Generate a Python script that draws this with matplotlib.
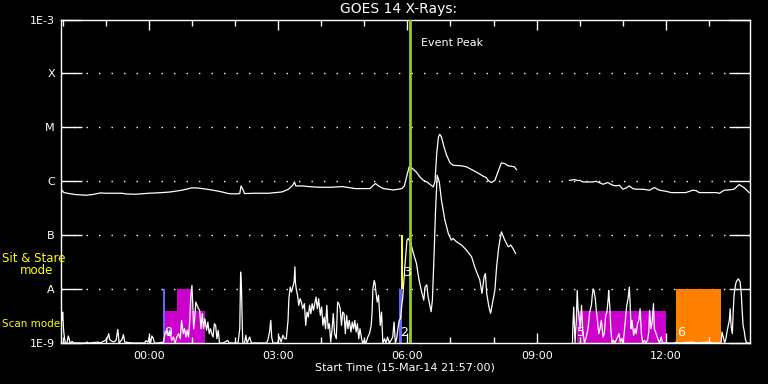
import numpy as np
import matplotlib
matplotlib.use("Agg")
import matplotlib.pyplot as plt
from matplotlib.ticker import FixedLocator, NullLocator

# ---------------- data (time in hours after 00:00, flux in W/m^2) ----------------
# short channel (lower curve), before data gap
short_t1 = [-2.08, -2.03, -2.01, -2.00, -1.98, -1.97, -1.94, -1.90, -1.87, -1.85, -1.83, -1.78, -1.74,
            -1.47, -1.43, -1.40, -1.17, -1.13, -1.01, -0.97, -0.93, -0.91, -0.87, -0.82, -0.76, -0.72,
            -0.69, -0.62, -0.59, -0.56, -0.39, -0.10, -0.07, -0.02, 0.01, 0.04, 0.07, 0.10, 0.13, 0.22,
            0.34, 0.38, 0.42, 0.46, 0.49, 0.53, 0.57, 0.61, 0.65, 0.69, 0.73, 0.76, 0.80, 0.83, 0.86,
            0.89, 0.92, 0.95, 0.97, 1.00, 1.02, 1.04, 1.07, 1.09, 1.12, 1.15, 1.18, 1.21, 1.24, 1.27,
            1.30, 1.34, 1.37, 1.40, 1.43, 1.46, 1.49, 1.52, 1.55, 1.58, 1.61, 1.64, 1.73, 1.83, 1.86,
            2.00, 2.03, 2.07, 2.11, 2.13, 2.15, 2.17, 2.18, 2.22, 2.25, 2.28, 2.34, 2.38, 2.73, 2.76,
            2.80, 2.83, 2.85, 2.88, 2.99, 3.03, 3.07, 3.11, 3.15, 3.19, 3.23, 3.25, 3.28, 3.31, 3.34,
            3.37, 3.39, 3.40, 3.42, 3.45, 3.48, 3.51, 3.54, 3.57, 3.61, 3.64, 3.67, 3.70, 3.73, 3.76,
            3.79, 3.82, 3.85, 3.88, 3.91, 3.94, 3.98, 4.01, 4.04, 4.07, 4.10, 4.13, 4.16, 4.19, 4.22,
            4.25, 4.28, 4.31, 4.35, 4.38, 4.41, 4.44, 4.47, 4.50, 4.53, 4.56, 4.59, 4.62, 4.65, 4.69,
            4.72, 4.75, 4.78, 4.81, 4.84, 4.87, 4.90, 4.93, 4.96, 5.00, 5.04, 5.08, 5.12, 5.16, 5.18,
            5.20, 5.23, 5.25, 5.27, 5.30, 5.33, 5.37, 5.40, 5.43, 5.47, 5.50, 5.54, 5.58, 5.62, 5.66,
            5.69, 5.72, 5.75, 5.78, 5.81, 5.84, 5.87, 5.89, 5.94, 5.99, 6.02, 6.08, 6.14, 6.21, 6.27,
            6.33, 6.38, 6.41, 6.45, 6.48, 6.55, 6.58, 6.62, 6.65, 6.69, 6.74, 6.79, 6.87, 6.95, 7.02,
            7.06, 7.14, 7.26, 7.37, 7.49, 7.56, 7.68, 7.73, 7.78, 7.81, 7.84, 7.89, 7.93, 7.98, 8.03,
            8.07, 8.12, 8.18, 8.26, 8.34, 8.40, 8.45, 8.51]
short_f1 = np.array([
    1.00, 3.25, 2.63, 3.75, 1.84, 1.49, 1.00, 1.00, 1.35, 1.20, 1.00, 1.07, 1.00,
    1.00, 1.04, 1.00, 1.04, 1.00, 1.12, 1.20, 1.49, 1.17, 1.10, 1.04, 1.12, 1.79,
    1.00, 1.17, 1.43, 1.04, 1.00, 1.00, 1.10, 1.04, 1.29, 1.00, 1.35, 1.24, 1.00, 1.00,
    1.04, 1.60, 1.72, 1.39, 1.72, 1.12, 1.29, 1.00, 1.29, 1.49, 1.20, 2.63, 1.49, 1.84, 1.29,
    1.72, 1.29, 2.63, 6.63, 11.7, 5.00, 1.84, 3.25, 5.75, 5.00, 4.32, 4.03, 1.84, 3.50, 1.84,
    2.82, 1.72, 2.45, 1.49, 1.84, 1.49, 1.29, 2.28, 2.12, 1.20, 1.72, 1.00, 1.00, 1.12, 1.00,
    1.00, 1.00, 1.00, 1.84, 20.7, 10.1, 1.84, 1.00, 1.00, 1.39, 1.00, 1.29, 1.00, 1.00, 1.12,
    1.60, 2.63, 1.29, 1.00, 1.00, 1.29, 1.04, 1.39, 1.20, 1.20, 2.63, 6.63, 10.9, 8.81, 10.9,
    13.5, 25.9, 13.5, 10.1, 7.64, 5.00, 6.63, 5.75, 4.32, 5.36, 2.12, 3.75, 3.03, 5.00, 3.50,
    5.36, 4.03, 5.36, 7.12, 4.32, 6.63, 3.25, 4.65, 2.12, 3.03, 1.84, 5.00, 1.84, 2.28, 1.04,
    1.72, 3.50, 1.49, 1.20, 5.75, 5.36, 4.32, 2.12, 3.75, 3.50, 1.49, 3.25, 1.84, 2.63, 1.60,
    2.45, 1.84, 2.63, 1.60, 2.28, 1.20, 1.84, 1.29, 1.00, 1.12, 1.00, 1.29, 1.49, 2.12, 3.75,
    10.1, 14.5, 12.6, 8.81, 5.75, 7.64, 2.12, 3.75, 1.00, 1.20, 1.00, 1.29, 1.00, 1.12, 1.29,
    2.45, 1.00, 1.20, 1.84, 2.63, 2.82, 5.00, 6.63, 25.7, 81.0, 86.9, 70.1, 45.8, 29.9, 14.7,
    8.9, 6.25, 11.0, 12.0, 7.21, 3.80, 6.25, 45.8, 251.0, 1290.0, 973.0, 445.0, 190.0, 107.0, 80.7,
    87.1, 75.2, 65.3, 52.7, 39.7, 25.9, 14.7, 8.32, 16.9, 19.5, 8.32, 4.71, 3.55, 5.89, 9.57,
    25.9, 60.8, 115.0, 80.7, 60.8, 65.3, 56.6, 45.8]) * 1e-9

# short channel, after data gap
short_t2 = [9.83, 9.84, 9.86, 9.89, 9.92, 9.94, 9.96, 9.98, 10.01, 10.04, 10.07, 10.11, 10.15, 10.19,
            10.23, 10.27, 10.29, 10.31, 10.33, 10.36, 10.38, 10.41, 10.44, 10.47, 10.50, 10.54, 10.57,
            10.60, 10.63, 10.66, 10.67, 10.70, 10.72, 10.75, 10.78, 10.81, 10.86, 10.91, 10.94, 10.97,
            11.00, 11.03, 11.06, 11.09, 11.12, 11.15, 11.17, 11.19, 11.21, 11.25, 11.28, 11.31, 11.34,
            11.37, 11.40, 11.43, 11.46, 11.50, 11.54, 11.58, 11.60, 11.62, 11.65, 11.68, 11.71, 11.73,
            11.77, 11.81, 11.85, 11.89, 11.92, 12.00, 12.08, 12.19, 12.23, 12.31, 12.62, 12.70, 13.00,
            13.08, 13.28, 13.30, 13.33, 13.36, 13.39, 13.43, 13.47, 13.49, 13.51, 13.54, 13.56, 13.58,
            13.61, 13.63, 13.65, 13.68, 13.70, 13.72, 13.75, 13.77, 13.79, 13.82, 13.84, 13.87, 13.93]
short_f2 = np.array([
    1.00, 2.12, 4.65, 1.00, 2.63, 9.44, 4.32, 3.25, 1.84, 5.00, 1.60, 1.00, 1.29, 1.84,
    3.75, 5.00, 7.64, 10.1, 9.44, 6.63, 4.32, 2.63, 1.49, 1.84, 2.63, 1.29, 1.49,
    3.25, 3.75, 6.63, 9.44, 4.32, 1.84, 1.00, 1.12, 1.00, 1.20, 1.49, 1.04, 1.20,
    1.00, 1.49, 2.82, 5.00, 6.63, 10.9, 5.00, 1.84, 2.63, 1.39, 1.84, 1.49, 2.28,
    2.63, 4.32, 1.49, 1.00, 1.12, 1.00, 1.20, 1.60, 4.03, 1.84, 2.45, 5.36, 1.84,
    1.49, 1.20, 1.00, 1.29, 1.00, 1.00, 1.00, 1.00, 1.04, 1.00, 1.04, 1.00, 1.04,
    1.00, 1.00, 1.60, 1.29, 1.00, 1.20, 1.84, 2.63, 4.32, 2.12, 1.49, 3.75, 7.64,
    11.7, 13.5, 14.5, 15.5, 14.5, 13.5, 7.64, 3.75, 2.12, 1.60, 1.20, 1.00, 1.00]) * 1e-9

# long channel (upper curve), before data gap
long_t1 = [-2.05, -2.02, -1.97, -1.85, -1.70, -1.47, -1.31, -1.12, -1.00, -0.62, -0.54, -0.31, 0.00,
           0.31, 0.50, 0.77, 0.99, 1.12, 1.24, 1.35, 1.54, 1.70, 1.85, 2.01, 2.11, 2.14, 2.18, 2.22,
           2.47, 2.78, 3.09, 3.24, 3.34, 3.38, 3.41, 3.55, 3.71, 3.94, 4.25, 4.48, 4.79, 5.13, 5.21,
           5.26, 5.33, 5.44, 5.56, 5.67, 5.79, 5.87, 5.93, 5.98, 6.04, 6.06, 6.14, 6.21, 6.29, 6.37,
           6.45, 6.52, 6.60, 6.64, 6.68, 6.72, 6.75, 6.79, 6.85, 6.91, 6.99, 7.06, 7.26, 7.37, 7.49,
           7.64, 7.76, 7.83, 7.87, 7.95, 8.03, 8.10, 8.18, 8.26, 8.34, 8.41, 8.48, 8.53]
long_f1 = np.array([
    6.90, 6.82, 6.16, 5.91, 5.66, 5.50, 5.66, 6.08, 5.99, 5.99, 5.82, 5.74, 5.99,
    6.16, 6.33, 6.82, 7.52, 7.52, 7.31, 7.11, 6.71, 6.33, 5.91, 5.82, 5.91, 8.19, 7.11, 5.91,
    5.99, 5.99, 6.33, 7.11, 8.43, 9.70, 8.19, 8.19, 7.97, 7.74, 7.74, 7.97, 7.31, 7.31, 8.43,
    9.06, 8.19, 7.31, 7.11, 6.91, 7.11, 7.31, 8.19, 12.0, 18.4, 19.0, 16.5, 14.8, 12.0, 10.4,
    9.72, 8.81, 7.86, 9.72, 32.5, 66.2, 74.2, 66.2, 43.2, 30.3, 21.9, 19.8, 19.3, 18.5, 16.5,
    14.2, 12.4, 11.7, 10.4, 9.45, 10.4, 14.8, 21.9, 21.3, 19.3, 19.0, 18.5, 16.5]) * 1e-7

# long channel, after data gap
long_t2 = [9.76, 9.88, 9.96, 10.00, 10.07, 10.30, 10.38, 10.54, 10.65, 10.69, 10.77, 10.84, 10.92,
           11.00, 11.08, 11.15, 11.23, 11.31, 11.46, 11.62, 11.73, 11.85, 12.00, 12.12, 12.31, 12.46,
           12.62, 12.70, 12.77, 13.00, 13.16, 13.24, 13.35, 13.47, 13.58, 13.70, 13.82, 13.93]
long_f2 = np.array([
    10.4, 10.7, 10.3, 10.4, 9.70, 9.70, 9.98, 8.80, 9.45, 9.06, 8.43, 8.19, 8.43,
    7.11, 7.52, 8.19, 7.31, 7.11, 7.11, 6.82, 7.63, 6.82, 6.52, 6.16, 6.16, 6.16,
    6.82, 6.71, 6.16, 6.16, 6.16, 5.99, 6.82, 6.91, 7.11, 8.68, 7.52, 6.16]) * 1e-7

# observation-mode bars (hours, flux)
obs_start = [0.32, 0.38, 0.665, 5.80, 5.84, 9.93, 12.24]
obs_end = [0.38, 1.31, 0.996, 5.87, 5.90, 12.00, 13.28]
obs_bottom = [1e-9, 1e-9, 1e-9, 1e-9, 1e-8, 1e-9, 1e-9]
obs_top = [1e-8, 4e-9, 1e-8, 1e-8, 1e-7, 4e-9, 1e-8]
obs_colors = ['#6464ff', '#cc00cc', '#cc00cc', '#6464ff', '#ffff00', '#cc00cc', '#ff8000']

obs_labels = ['0', '2', '3', '5', '6']
obs_label_t = [0.44, 5.92, 6.00, 10.02, 12.36]
obs_label_f = [1.55e-9, 1.55e-9, 2.05e-8, 1.55e-9, 1.55e-9]

event_peak = 6.06
t_min, t_max = -2.05, 13.95

class_levels = [1e-9, 1e-8, 1e-7, 1e-6, 1e-5, 1e-4, 1e-3]
class_labels = ['1E-9', 'A', 'B', 'C', 'M', 'X', '1E-3']
hour_ticks = [0, 3, 6, 9, 12]
hour_labels = ['00:00', '03:00', '06:00', '09:00', '12:00']
minor_hours = list(range(-2, 14))

# ---------------- figure ----------------
plt.rcParams['font.family'] = ['DejaVu Sans']
W, H = 768, 384
fig = plt.figure(figsize=(W / 100, H / 100), dpi=100, facecolor='black')
ax = fig.add_axes([60.5 / W, 41 / H, 689.5 / W, 323.5 / H], facecolor='black')
ax.set_yscale('log')
ax.set_ylim(1e-9, 1e-3)
ax.set_xlim(t_min, t_max)

for s, e, b, t, c in zip(obs_start, obs_end, obs_bottom, obs_top, obs_colors):
    ax.fill_between([s, e], [b, b], [t, t], color=c, lw=0, zorder=1)

for lev in class_levels[1:-1]:
    ax.axhline(lev, color='white', lw=1, ls=(0, (1, 8)), zorder=0.5)

ax.plot(short_t1, short_f1, color='white', lw=0.9, zorder=3)
ax.plot(short_t2, short_f2, color='white', lw=0.9, zorder=3)
ax.plot(long_t1, long_f1, color='white', lw=0.9, zorder=3)
ax.plot(long_t2, long_f2, color='white', lw=0.9, zorder=3)

ax.axvline(event_peak, color='#9acd1a', lw=2, zorder=4)
ax.text(event_peak + 0.25, 3.6e-4, 'Event Peak', color='white', fontsize=8,
        ha='left', va='center')

for lab, t, f in zip(obs_labels, obs_label_t, obs_label_f):
    ax.text(t, f, lab, color='white', fontsize=9, ha='center', va='center', zorder=5)

# axes styling
for sp in ax.spines.values():
    sp.set_color('white')
    sp.set_linewidth(1)

ax.yaxis.set_major_locator(FixedLocator(class_levels))
ax.yaxis.set_minor_locator(NullLocator())
ax.set_yticklabels(class_labels)
ax.tick_params(axis='y', which='major', direction='in', length=15, width=1, color='white',
               labelcolor='white', labelsize=8, left=True, right=True, pad=4)

ax.xaxis.set_major_locator(FixedLocator(hour_ticks))
ax.xaxis.set_minor_locator(FixedLocator(minor_hours))
ax.set_xticklabels(hour_labels)
ax.tick_params(axis='x', which='major', direction='in', length=7, width=1, color='white',
               labelcolor='white', labelsize=8, top=True, bottom=True, pad=6)
ax.tick_params(axis='x', which='minor', direction='in', length=4, width=1, color='white',
               top=True, bottom=True)

fig.text(399 / W, 1 - 9 / H, 'GOES 14 X-Rays:', color='white', fontsize=10,
         ha='center', va='center')
fig.text(405 / W, 1 - 368 / H, 'Start Time (15-Mar-14 21:57:00)', color='white',
         fontsize=8, ha='center', va='center')
fig.text(2 / W, 1 - 259 / H, 'Sit & Stare', color='yellow', fontsize=8.5, ha='left', va='center')
fig.text(37 / W, 1 - 271 / H, 'mode', color='yellow', fontsize=8.5, ha='center', va='center')
fig.text(2 / W, 1 - 324 / H, 'Scan mode', color='yellow', fontsize=7.5, ha='left', va='center')

fig.savefig('out.png', dpi=100, facecolor='black')
